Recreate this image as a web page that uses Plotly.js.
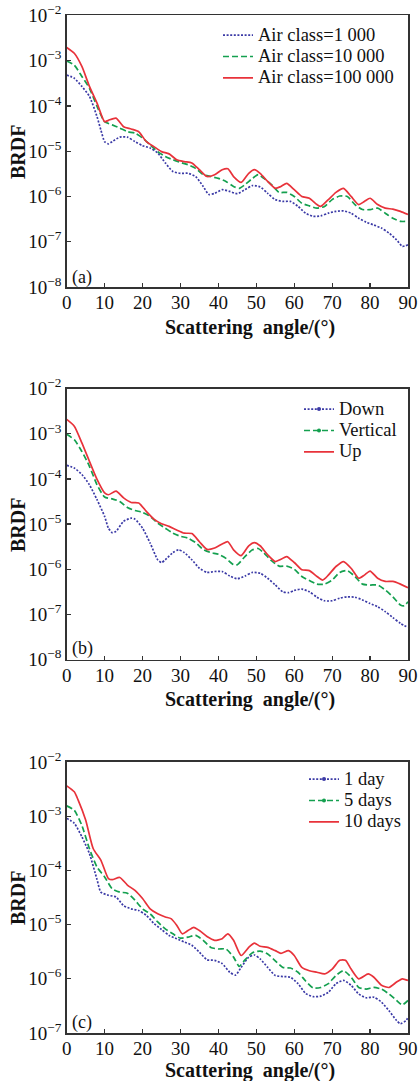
<!DOCTYPE html>
<html>
<head>
<meta charset="utf-8">
<script src="https://cdn.plot.ly/plotly-3.0.1.min.js"></script>
<style>html,body{margin:0;padding:0;background:#fff;}#chart{width:418px;height:1081px;}</style>
</head>
<body>
<div id="chart"></div>
<script>
// ---------- DATA ----------
var yTickVals = [1e-2, 1e-3, 1e-4, 1e-5, 1e-6, 1e-7, 1e-8];
var yTickText = ["10<sup>−2</sup>","10<sup>−3</sup>","10<sup>−4</sup>","10<sup>−5</sup>","10<sup>−6</sup>","10<sup>−7</sup>","10<sup>−8</sup>"];
var xTickVals = [0,10,20,30,40,50,60,70,80,90];

// Panel (a): air class
var a_names = ["Air class=1 000", "Air class=10 000", "Air class=100 000"];
var a1000_x = [0,2,4,6,8,9,10,11,12,14,16,18,20,22,24,26,28,30,32,34,36,37.5,39,41,43,45,47,49,51,53,55,57,59,61,63,65,67,69,71,73,75,77,79,81,83,85,87,88.5,90];
var a1000_y = [4.79e-4,4.07e-4,2.69e-4,1.62e-4,5.75e-5,2.95e-5,1.62e-5,1.45e-5,1.62e-5,2.04e-5,2.04e-5,1.62e-5,1.32e-5,1.17e-5,9.12e-6,5.50e-6,3.55e-6,3.24e-6,3.24e-6,2.75e-6,1.66e-6,1.10e-6,1.17e-6,1.41e-6,1.29e-6,1.15e-6,1.41e-6,1.74e-6,1.62e-6,1.17e-6,8.51e-7,7.76e-7,7.76e-7,6.03e-7,4.27e-7,3.63e-7,3.72e-7,4.27e-7,4.68e-7,4.79e-7,4.27e-7,3.31e-7,2.69e-7,2.34e-7,2.00e-7,1.55e-7,1.10e-7,7.94e-8,8.51e-8];
var a10000_x = [0,2,4,6,8,10,12,14,16,18,20,22,24,26,28,30,32,34,36,38,40,42,44,45.5,47,49,50.5,52,54,56,58,60,62,64,66,68,70,72,74,76,78,80,82,84,86,88,90];
var a10000_y = [9.77e-4,7.94e-4,4.47e-4,2.45e-4,9.77e-5,4.47e-5,3.80e-5,3.24e-5,2.69e-5,2.51e-5,1.95e-5,1.38e-5,9.77e-6,7.59e-6,6.46e-6,5.62e-6,5.01e-6,4.17e-6,3.02e-6,2.75e-6,2.51e-6,2.14e-6,1.66e-6,1.51e-6,1.82e-6,2.51e-6,3.02e-6,2.51e-6,1.82e-6,1.23e-6,1.23e-6,1.00e-6,7.08e-7,6.17e-7,5.50e-7,6.03e-7,8.51e-7,1.02e-6,1.00e-6,6.61e-7,5.13e-7,5.13e-7,5.50e-7,4.27e-7,3.31e-7,2.82e-7,2.82e-7];
var a100000_x = [0,2,4,6,8,10,11,13,15,17,19,21,23,25,27,29,31,33,35,37,39,41,42.5,44,46,48,49.5,51,53,55,56.5,58,60,62,64,66,67,69,71,73,75,77,78.5,80,82,84,86,88,90];
var a100000_y = [1.95e-3,1.45e-3,7.41e-4,2.69e-4,1.15e-4,4.47e-5,4.79e-5,5.37e-5,3.47e-5,3.09e-5,2.69e-5,1.62e-5,1.26e-5,9.77e-6,8.71e-6,6.46e-6,5.89e-6,5.50e-6,3.89e-6,2.75e-6,3.02e-6,3.89e-6,4.07e-6,2.75e-6,2.04e-6,3.24e-6,3.89e-6,3.24e-6,2.14e-6,1.51e-6,1.66e-6,1.95e-6,1.41e-6,1.00e-6,9.12e-7,6.61e-7,6.03e-7,8.51e-7,1.23e-6,1.51e-6,1.00e-6,6.61e-7,7.76e-7,9.12e-7,6.61e-7,5.50e-7,5.25e-7,4.68e-7,3.98e-7];

// Panel (b): orientation
var b_names = ["Down", "Vertical", "Up"];
var bDown_x = [0,2,4,6,8,10,11,12,13,15,17,18,20,22,24,25,26,28,29.5,31,33,35,37,39,41,43,45,47,49,51,53,55,57,58.5,60,62,64,66,68,70,72,74,76,78,80,82,84,86,88,90];
var bDown_y = [2.00e-4,1.74e-4,1.26e-4,7.41e-5,3.47e-5,1.48e-5,8.13e-6,6.46e-6,6.92e-6,1.15e-5,1.35e-5,1.29e-5,8.13e-6,3.80e-6,1.62e-6,1.41e-6,1.62e-6,2.34e-6,2.69e-6,2.34e-6,1.62e-6,1.05e-6,8.51e-7,8.91e-7,8.91e-7,7.08e-7,6.17e-7,7.08e-7,8.51e-7,8.13e-7,6.31e-7,4.47e-7,3.16e-7,3.02e-7,3.39e-7,3.63e-7,3.16e-7,2.40e-7,2.00e-7,2.00e-7,2.29e-7,2.45e-7,2.40e-7,2.09e-7,1.74e-7,1.48e-7,1.15e-7,8.51e-8,6.31e-8,5.13e-8];
var bVert_x = [0,2,4,6,8,10,12,14,16,18,20,22,24,26,28,30,32,34,36,38,40,42,44,45,47,49,50.5,52,54,56,58,60,62,64,66,68,70,72,74,76,78,80,82,84,86,88,89,90];
var bVert_y = [9.77e-4,7.41e-4,4.07e-4,1.91e-4,7.41e-5,3.98e-5,3.63e-5,3.16e-5,2.34e-5,2.00e-5,1.82e-5,1.48e-5,1.05e-5,8.13e-6,6.31e-6,5.37e-6,4.90e-6,3.89e-6,2.75e-6,2.34e-6,2.14e-6,1.74e-6,1.26e-6,1.26e-6,1.91e-6,2.69e-6,2.88e-6,2.29e-6,1.55e-6,1.17e-6,1.17e-6,1.00e-6,6.92e-7,5.62e-7,4.68e-7,4.68e-7,5.75e-7,8.51e-7,9.33e-7,6.92e-7,4.68e-7,4.47e-7,4.47e-7,3.47e-7,2.45e-7,1.62e-7,1.55e-7,1.91e-7];
var bUp_x = [0,2,4,6,8,10,11,13,15,17,19,21,23,25,27,29,31,33,35,37,39,41,42.5,44,46,48,49.5,51,53,55,56.5,58,60,62,64,66,67.5,69,71,73,75,77,78.5,80,82,84,86,88,90];
var bUp_y = [2.09e-3,1.48e-3,6.31e-4,2.45e-4,9.77e-5,4.90e-5,4.47e-5,5.37e-5,3.80e-5,3.02e-5,2.95e-5,1.91e-5,1.29e-5,1.02e-5,8.91e-6,7.41e-6,6.31e-6,6.17e-6,4.07e-6,2.75e-6,2.95e-6,3.63e-6,4.07e-6,2.69e-6,2.00e-6,3.31e-6,3.89e-6,3.31e-6,2.09e-6,1.48e-6,1.66e-6,1.91e-6,1.41e-6,9.77e-7,9.33e-7,6.92e-7,5.75e-7,7.41e-7,1.15e-6,1.48e-6,1.05e-6,6.31e-7,7.41e-7,9.12e-7,6.31e-7,5.37e-7,5.37e-7,4.68e-7,3.89e-7];

// Panel (c): exposure time
var c_names = ["1 day", "5 days", "10 days"];
var c1_x = [0,2,4,6,8,9,11,13,15,17,19,21,23,25,27,29,31,33,35,37,39,41,43,44.5,46,48,49.5,51,53,55,57,59,61,63,65,67,69,71,73,75,77,79,81,83,85,87,88,89.5,90];
var c1_y = [9.12e-4,7.41e-4,4.17e-4,2.04e-4,6.76e-5,3.98e-5,3.47e-5,3.24e-5,2.24e-5,1.95e-5,1.82e-5,1.48e-5,1.05e-5,8.13e-6,6.31e-6,5.50e-6,4.79e-6,4.17e-6,3.09e-6,2.24e-6,2.19e-6,1.91e-6,1.32e-6,1.17e-6,1.62e-6,2.51e-6,2.75e-6,2.34e-6,1.62e-6,1.15e-6,1.10e-6,1.07e-6,8.13e-7,5.37e-7,4.68e-7,4.79e-7,5.62e-7,8.13e-7,9.33e-7,7.59e-7,5.25e-7,4.47e-7,4.57e-7,3.72e-7,2.57e-7,1.70e-7,1.48e-7,1.70e-7,1.95e-7];
var c5_x = [0,2,4,6,8,10,12,14,16,18,20,22,24,26,28,30,32,34,36,38,40,42,44,45.5,47,49,51,53,55,57,59,61,63,65,67,69,71,73,75,77,79,81,83,85,87,88.5,90];
var c5_y = [1.55e-3,1.29e-3,6.76e-4,2.51e-4,1.15e-4,7.59e-5,4.57e-5,3.98e-5,3.80e-5,2.82e-5,1.95e-5,1.58e-5,1.12e-5,8.32e-6,6.76e-6,5.62e-6,5.89e-6,6.31e-6,5.13e-6,3.80e-6,3.55e-6,3.55e-6,2.51e-6,1.70e-6,2.24e-6,3.02e-6,3.24e-6,2.88e-6,2.14e-6,1.62e-6,1.58e-6,1.32e-6,9.12e-7,6.76e-7,6.92e-7,8.13e-7,1.15e-6,1.41e-6,1.07e-6,6.92e-7,6.46e-7,6.92e-7,6.46e-7,5.25e-7,3.98e-7,3.31e-7,3.98e-7];
var c10_x = [0,2,3,5,7,9,11,12,14,16,18,20,22,24,26,27.5,29,30.5,32,33.5,35,37,39,41,42.5,44,46,48,49.5,51,53,55,56.5,58.5,60,62,64,66,68,70,72,73.5,75,77,79.5,81,83,85,87,88.5,90];
var c10_y = [3.63e-3,2.82e-3,2.00e-3,8.51e-4,2.51e-4,1.55e-4,7.08e-5,6.76e-5,7.41e-5,5.37e-5,4.27e-5,3.02e-5,1.95e-5,1.58e-5,1.38e-5,1.29e-5,9.77e-6,6.76e-6,7.76e-6,8.91e-6,7.76e-6,6.03e-6,5.13e-6,5.50e-6,6.76e-6,5.13e-6,2.69e-6,3.80e-6,4.57e-6,3.98e-6,3.80e-6,3.31e-6,2.95e-6,3.31e-6,2.69e-6,1.62e-6,1.41e-6,1.32e-6,1.23e-6,1.51e-6,2.19e-6,2.19e-6,1.51e-6,1.00e-6,1.23e-6,1.07e-6,7.59e-7,6.92e-7,8.71e-7,1.00e-6,9.33e-7];

// ---------- STYLE ----------
var FONT = "Liberation Serif, Times New Roman, serif";
var BLUE = "#3b3aa6", GREEN = "#14a04f", RED = "#e8323a";
var styles = [
  {color: BLUE, dash: "2px,1.6px", width: 1.7},
  {color: GREEN, dash: "6px,3px", width: 1.7},
  {color: RED, dash: "solid", width: 1.7}
];
function legName(s) { return '<span style="font-size:18.5px">' + s + '</span>'; }

function lineTrace(x, y, name, st, xa, ya, legend, showleg) {
  return {x: x, y: y, name: legName(name), type: "scatter", mode: "lines",
    line: {color: st.color, dash: st.dash, width: st.width, shape: "spline", smoothing: 0.6},
    xaxis: xa, yaxis: ya, legend: legend, showlegend: showleg, hoverinfo: "skip"};
}
function legendDot(name, st, xa, ya, legend) {
  return {x: [null], y: [null], name: legName(name), type: "scatter", mode: "lines+markers",
    line: {color: st.color, dash: st.dash, width: st.width},
    marker: {color: st.color, size: 4},
    xaxis: xa, yaxis: ya, legend: legend, showlegend: true, hoverinfo: "skip"};
}

var traces = [
  lineTrace(a1000_x, a1000_y, a_names[0], styles[0], "x", "y", "legend", true),
  lineTrace(a10000_x, a10000_y, a_names[1], styles[1], "x", "y", "legend", true),
  lineTrace(a100000_x, a100000_y, a_names[2], styles[2], "x", "y", "legend", true),

  lineTrace(bDown_x, bDown_y, b_names[0], styles[0], "x2", "y2", "legend2", false),
  lineTrace(bVert_x, bVert_y, b_names[1], styles[1], "x2", "y2", "legend2", false),
  lineTrace(bUp_x, bUp_y, b_names[2], styles[2], "x2", "y2", "legend2", false),
  legendDot(b_names[0], styles[0], "x2", "y2", "legend2"),
  legendDot(b_names[1], styles[1], "x2", "y2", "legend2"),
  lineTrace([null], [null], b_names[2], styles[2], "x2", "y2", "legend2", true),

  lineTrace(c1_x, c1_y, c_names[0], styles[0], "x3", "y3", "legend3", false),
  lineTrace(c5_x, c5_y, c_names[1], styles[1], "x3", "y3", "legend3", false),
  lineTrace(c10_x, c10_y, c_names[2], styles[2], "x3", "y3", "legend3", false),
  legendDot(c_names[0], styles[0], "x3", "y3", "legend3"),
  legendDot(c_names[1], styles[1], "x3", "y3", "legend3"),
  lineTrace([null], [null], c_names[2], styles[2], "x3", "y3", "legend3", true)
];

var W = 418, H = 1081;
var xDom = [66.7 / W, 408 / W];
function yd(top, bottom) { return [1 - bottom / H, 1 - top / H]; }

function xax(anchor) {
  return {domain: xDom, range: [0, 90], tickvals: xTickVals, ticks: "inside", ticklen: 4, tickwidth: 1.3,
    tickcolor: "#333", showline: true, mirror: true, linecolor: "#333", linewidth: 1.6,
    showgrid: false, zeroline: false, anchor: anchor, ticklabelstandoff: -2,
    tickfont: {family: FONT, size: 19, color: "#111"}};
}
function yax(anchor, dom, rng) {
  return {type: "log", domain: dom, range: rng, tickvals: yTickVals, ticktext: yTickText,
    ticks: "inside", ticklen: 4, tickwidth: 1.3, tickcolor: "#333", showline: true, mirror: true,
    linecolor: "#333", linewidth: 1.6, showgrid: false, zeroline: false, anchor: anchor,
    tickfont: {family: FONT, size: 19, color: "#111"}};
}

function legendBox(xpx, ypx) {
  return {x: xpx / W, y: 1 - ypx / H, xanchor: "left", yanchor: "top", bgcolor: "rgba(0,0,0,0)",
    borderwidth: 0, font: {family: FONT, size: 14.2, color: "#111"}, tracegroupgap: 0,
    itemwidth: 30};
}

var annFont = {family: FONT, size: 20, color: "#111", weight: "bold"};
var annotations = [];
var xtitles = [327, 699, 1070];
var ytitleC = [152, 525, 898];
var panelLab = [["(a)", 277], ["(b)", 648], ["(c)", 1022]];
for (var i = 0; i < 3; i++) {
  annotations.push({text: "Scattering  angle/(°)", xref: "paper", yref: "paper", x: 250 / W,
    y: 1 - xtitles[i] / H, xanchor: "center", yanchor: "middle", showarrow: false, font: annFont});
  annotations.push({text: "BRDF", xref: "paper", yref: "paper", x: 18 / W, y: 1 - ytitleC[i] / H,
    xanchor: "center", yanchor: "middle", textangle: -90, showarrow: false, font: annFont});
  annotations.push({text: panelLab[i][0], xref: "paper", yref: "paper", x: 70 / W, y: 1 - panelLab[i][1] / H,
    xanchor: "left", yanchor: "middle", showarrow: false, font: {family: FONT, size: 18, color: "#111"}});
}

var layout = {
  width: W, height: H, margin: {l: 0, r: 0, t: 0, b: 0},
  paper_bgcolor: "#fff", plot_bgcolor: "#fff",
  xaxis: xax("y"), yaxis: yax("x", yd(15.3, 287), [-8, -2]),
  xaxis2: xax("y2"), yaxis2: yax("x2", yd(388.7, 659.5), [-8, -2]),
  xaxis3: xax("y3"), yaxis3: yax("x3", yd(762, 1033), [-7, -2]),
  legend: legendBox(218, 19.3),
  legend2: legendBox(299, 393.3),
  legend3: legendBox(304, 763.3),
  annotations: annotations
};

Plotly.newPlot("chart", traces, layout, {staticPlot: true});
</script>
</body>
</html>
